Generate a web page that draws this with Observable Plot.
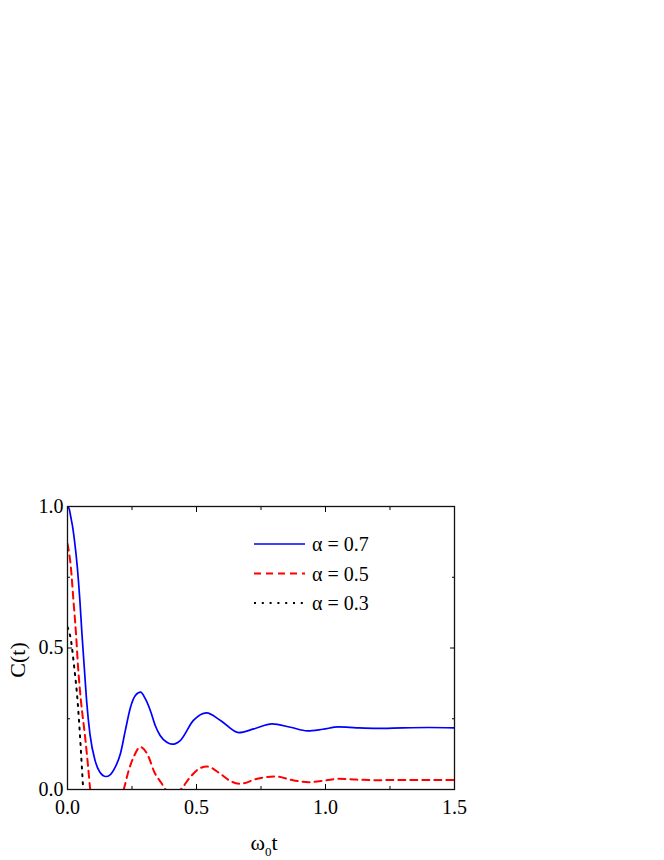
<!DOCTYPE html>
<html>
<head>
<meta charset="utf-8">
<script src="https://cdn.jsdelivr.net/npm/d3@7"></script>
<script src="https://cdn.jsdelivr.net/npm/@observablehq/plot@0.6"></script>
<style>
  html, body { margin: 0; padding: 0; background: #fff; }
  #chart { position: relative; width: 664px; height: 860px; }
</style>
</head>
<body>
<div id="chart"></div>
<script>
// ---- Data ----
const tBlue = [0, 0.007, 0.013, 0.019, 0.027, 0.038, 0.048, 0.056, 0.065, 0.074, 0.087, 0.107, 0.125, 0.149, 0.165, 0.185, 0.205, 0.224, 0.244, 0.263, 0.283, 0.302, 0.321, 0.34, 0.359, 0.385, 0.406, 0.437, 0.488, 0.539, 0.593, 0.664, 0.722, 0.793, 0.864, 0.93, 0.99, 1.05, 1.12, 1.2, 1.3, 1.4, 1.5];
const cBlue = [1.0, 0.99, 0.962, 0.933, 0.88, 0.786, 0.668, 0.55, 0.432, 0.314, 0.196, 0.102, 0.062, 0.046, 0.052, 0.079, 0.126, 0.208, 0.29, 0.332, 0.344, 0.32, 0.279, 0.226, 0.191, 0.167, 0.16, 0.173, 0.244, 0.271, 0.244, 0.201, 0.214, 0.232, 0.22, 0.207, 0.213, 0.221, 0.218, 0.216, 0.218, 0.219, 0.218];

const tRed = [0, 0.013, 0.023, 0.033, 0.041, 0.052, 0.067, 0.08, 0.088, 0.1, 0.13, 0.155, 0.18, 0.2, 0.218, 0.237, 0.256, 0.282, 0.315, 0.334, 0.366, 0.38, 0.4, 0.42, 0.438, 0.476, 0.509, 0.541, 0.593, 0.631, 0.67, 0.735, 0.806, 0.877, 0.935, 1.0, 1.05, 1.12, 1.2, 1.3, 1.4, 1.5];
const cRed = [0.868, 0.786, 0.668, 0.55, 0.432, 0.314, 0.196, 0.079, 0.0, -0.07, -0.13, -0.14, -0.1, -0.05, 0.0, 0.067, 0.114, 0.15, 0.114, 0.067, 0.02, 0.0, -0.012, -0.01, 0.0, 0.044, 0.073, 0.081, 0.055, 0.03, 0.02, 0.038, 0.046, 0.032, 0.026, 0.032, 0.038, 0.035, 0.033, 0.034, 0.034, 0.034];

const tBlack = [0, 0.013, 0.026, 0.039, 0.048, 0.062, 0.07];
const cBlack = [0.574, 0.53, 0.432, 0.314, 0.196, -0.015, -0.12];

const seriesLabels = ["α = 0.7", "α = 0.5", "α = 0.3"];
const seriesColors = ["#0000ff", "#ff0000", "#000000"];
const seriesDash = [null, "7,5", "2,5.8"];

const xMajor = [0, 0.5, 1.0, 1.5];
const xMinor = [0.25, 0.75, 1.25];
const yMajor = [0, 0.5, 1.0];
const yMinor = [0.25, 0.75];

// ---- Build ----
const FONT = "Liberation Serif, DejaVu Serif, serif";
const rows = (ts, cs) => ts.map((t, i) => ({t, c: cs[i]}));
const blue = rows(tBlue, cBlue), red = rows(tRed, cRed), black = rows(tBlack, cBlack);
const fmt = d3.format(".1f");
const blank = () => "";
const axisStyle = {fontSize: 20, fontFamily: FONT, color: "#000", label: null};

const W = 664, H = 860;
const svg = Plot.plot({
  width: W, height: H,
  marginTop: 506, marginLeft: 67, marginRight: 210, marginBottom: 71,
  style: {fontFamily: FONT, background: "#fff"},
  x: {domain: [0, 1.5]},
  y: {domain: [0, 1]},
  marks: [
    Plot.line(black, {x: "t", y: "c", stroke: seriesColors[2], strokeWidth: 2, strokeDasharray: seriesDash[2], curve: "monotone-x", clip: true}),
    Plot.line(red, {x: "t", y: "c", stroke: seriesColors[1], strokeWidth: 2, strokeDasharray: seriesDash[1], curve: "monotone-x", clip: true}),
    Plot.line(blue, {x: "t", y: "c", stroke: seriesColors[0], strokeWidth: 1.7, curve: "monotone-x", clip: true}),
    // bottom axis
    Plot.axisX(xMajor, {...axisStyle, anchor: "bottom", tickSize: -5, tickPadding: 15, tickFormat: fmt}),
    Plot.axisX(xMinor, {...axisStyle, anchor: "bottom", tickSize: -3, tickFormat: blank}),
    // top axis
    Plot.axisX(xMajor, {...axisStyle, anchor: "top", tickSize: -5, tickFormat: blank}),
    Plot.axisX(xMinor, {...axisStyle, anchor: "top", tickSize: -3, tickFormat: blank}),
    // left axis
    Plot.axisY(yMajor, {...axisStyle, anchor: "left", tickSize: -5, tickPadding: 9, tickFormat: fmt}),
    Plot.axisY(yMinor, {...axisStyle, anchor: "left", tickSize: -3, tickFormat: blank}),
    // right axis
    Plot.axisY(yMajor, {...axisStyle, anchor: "right", tickSize: -5, tickFormat: blank}),
    Plot.axisY(yMinor, {...axisStyle, anchor: "right", tickSize: -3, tickFormat: blank}),
    Plot.frame({stroke: "#111", strokeWidth: 1.3})
  ]
});

const s = d3.select(svg);
// x axis label  ω0t
const xl = s.append("text")
  .attr("x", 264).attr("y", 850)
  .attr("text-anchor", "middle")
  .style("font-family", FONT).attr("font-size", 22).attr("fill", "#000");
xl.append("tspan").text("ω");
xl.append("tspan").attr("font-size", 13).attr("dy", 6).text("0");
xl.append("tspan").attr("dy", -6).text("t");

// y axis label C(t)
s.append("text")
  .attr("transform", "translate(25,660) rotate(-90)")
  .attr("text-anchor", "middle")
  .style("font-family", FONT).attr("font-size", 22).attr("fill", "#000")
  .text("C(t)");

// legend
const lg = s.append("g").attr("text-anchor", "start");
seriesLabels.forEach((lab, i) => {
  const y = 544 + i * 29.5;
  lg.append("line")
    .attr("x1", 254).attr("x2", 305).attr("y1", y).attr("y2", y)
    .attr("stroke", seriesColors[i]).attr("stroke-width", i === 0 ? 1.7 : 2)
    .attr("stroke-dasharray", seriesDash[i]);
  lg.append("text")
    .attr("x", 312).attr("y", y).attr("dy", "0.35em")
    .attr("text-anchor", "start")
    .style("font-family", FONT).attr("font-size", 20).attr("fill", "#000")
    .text(lab);
});

document.getElementById("chart").append(svg);
</script>
</body>
</html>
